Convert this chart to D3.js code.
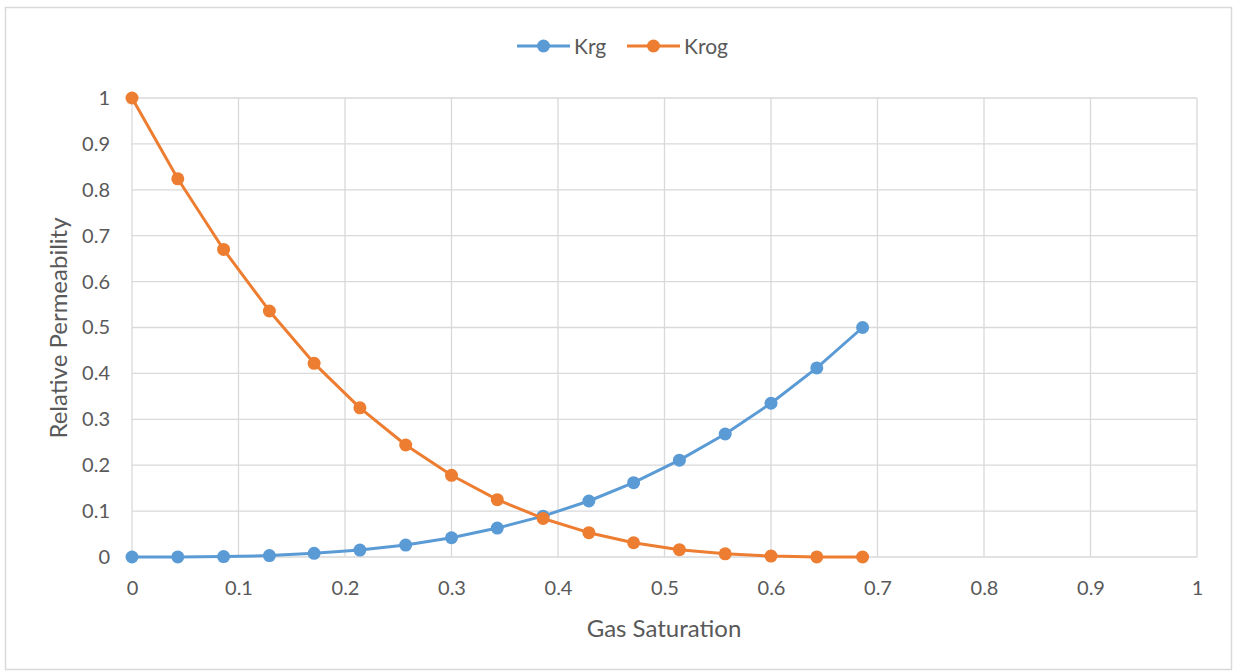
<!DOCTYPE html>
<html><head><meta charset="utf-8">
<script src="https://cdn.jsdelivr.net/npm/d3@7"></script>
<style>body{margin:0;background:#fff}svg{display:block}text{font-family:Lato,"Open Sans",sans-serif}</style>
</head><body>
<svg id="c" width="1233" height="671"></svg>
<script>
const gasSaturation = [0, 0.043, 0.086, 0.129, 0.171, 0.214, 0.257, 0.3, 0.343, 0.386, 0.429, 0.471, 0.514, 0.557, 0.6, 0.643, 0.686];
const krg = [0, 0.0001, 0.001, 0.003, 0.008, 0.015, 0.026, 0.042, 0.063, 0.089, 0.122, 0.162, 0.211, 0.268, 0.335, 0.412, 0.5];
const krog = [1, 0.824, 0.67, 0.536, 0.422, 0.325, 0.244, 0.178, 0.125, 0.084, 0.053, 0.031, 0.016, 0.007, 0.002, 0.0002, 0];
const xTicks = [0,0.1,0.2,0.3,0.4,0.5,0.6,0.7,0.8,0.9,1];
const yTicks = [0,0.1,0.2,0.3,0.4,0.5,0.6,0.7,0.8,0.9,1];
const seriesNames = ["Krg","Krog"];
const colors = ["#5B9BD5","#ED7D31"];

const svg = d3.select("#c");
svg.append("rect").attr("x",5.5).attr("y",7.5).attr("width",1226).attr("height",662)
  .attr("fill","#fff").attr("stroke","#d9d9d9").attr("stroke-width",1.5);

const x = d3.scaleLinear().domain([0,1]).range([132,1197]);
const y = d3.scaleLinear().domain([0,1]).range([557,98]);

const grid = svg.append("g");
grid.selectAll("line.h").data(yTicks).join("line").attr("class","h")
  .attr("x1",x(0)).attr("x2",x(1)).attr("y1",d=>y(d)).attr("y2",d=>y(d))
  .attr("stroke","#d9d9d9").attr("stroke-width",1.3);
grid.selectAll("line.v").data(xTicks).join("line").attr("class","v")
  .attr("y1",y(0)).attr("y2",y(1)).attr("x1",d=>x(d)).attr("x2",d=>x(d))
  .attr("stroke","#d9d9d9").attr("stroke-width",1.3);

const xAxis = svg.append("g").attr("transform",`translate(0,${y(0)})`)
  .call(d3.axisBottom(x).tickValues(xTicks).tickSize(0).tickPadding(24).tickFormat(d=>String(+d.toFixed(1))));
xAxis.select(".domain").remove();
xAxis.selectAll("text").attr("font-size",20).attr("fill","#595959").style("font-family","Lato, sans-serif");

const yAxis = svg.append("g").attr("transform",`translate(${x(0)},0)`)
  .call(d3.axisLeft(y).tickValues(yTicks).tickSize(0).tickPadding(22).tickFormat(d=>String(+d.toFixed(1))));
yAxis.select(".domain").remove();
yAxis.selectAll("text").attr("font-size",20).attr("fill","#595959").style("font-family","Lato, sans-serif");

svg.append("text").attr("x",664).attr("y",637).attr("text-anchor","middle")
  .attr("font-size",24).attr("fill","#595959").text("Gas Saturation");
svg.append("text").attr("transform","translate(67,328) rotate(-90)").attr("text-anchor","middle")
  .attr("font-size",24).attr("fill","#595959").text("Relative Permeability");

const line = d3.line().x((d,i)=>x(gasSaturation[i])).y(d=>y(d));
[krg, krog].forEach((vals, k) => {
  const g = svg.append("g");
  g.append("path").attr("d", line(vals)).attr("fill","none").attr("stroke",colors[k])
    .attr("stroke-width",3).attr("stroke-linejoin","round");
  g.selectAll("circle").data(vals).join("circle")
    .attr("cx",(d,i)=>x(gasSaturation[i])).attr("cy",d=>y(d)).attr("r",6.5).attr("fill",colors[k]);
});

const legX = [517, 627];
seriesNames.forEach((n,k)=>{
  const g = svg.append("g");
  g.append("line").attr("x1",legX[k]).attr("x2",legX[k]+53).attr("y1",46).attr("y2",46)
    .attr("stroke",colors[k]).attr("stroke-width",3);
  g.append("circle").attr("cx",legX[k]+26.5).attr("cy",46).attr("r",6.5).attr("fill",colors[k]);
  g.append("text").attr("x",legX[k]+57).attr("y",54).attr("font-size",21).attr("fill","#595959").text(n);
});
</script>
</body></html>
